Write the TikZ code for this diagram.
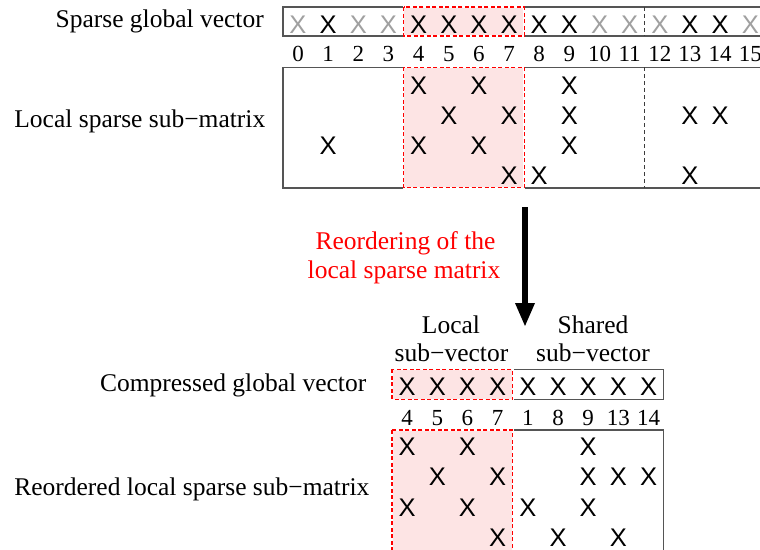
\documentclass[tikz,border=0pt]{standalone}
\usepackage{fontspec}
\setmainfont{Liberation Serif}
\newfontfamily\xsans{Liberation Sans}
\usetikzlibrary{arrows.meta}
\definecolor{pinkfill}{RGB}{253,228,228}
\definecolor{bordergray}{RGB}{85,85,85}
\definecolor{xgray}{RGB}{160,160,160}
\definecolor{dashgray}{RGB}{60,60,60}
\begin{document}
\begin{tikzpicture}[x=1pt,y=-1pt,
  txt/.style={font=\fontsize{25.5}{30}\selectfont, inner sep=0pt},
  lbl/.style={txt, anchor=base east},
  ctr/.style={txt, anchor=base},
  redtxt/.style={txt, anchor=base, text=red},
  idx/.style={font=\fontsize{23}{28}\selectfont, inner sep=0pt},
  xm/.style={font=\xsans\fontsize{25.5}{30}\selectfont, inner sep=0pt},
  xg/.style={xm, text=xgray},
  boxline/.style={draw=bordergray, line width=1.6pt},
  pinkbg/.style={fill=pinkfill, draw=white, line width=1.6pt},
  reddash/.style={draw=red, line width=1.2pt, dash pattern=on 4pt off 2.5pt},
  sepdash/.style={draw=dashgray, line width=1.1pt, dash pattern=on 4pt off 3pt}
]
\useasboundingbox (0,0) rectangle (760,549);
\fill[white] (0,0) rectangle (760,549);

% ---------- top vector and matrix ----------
\draw[boxline] (283,7) rectangle (766,36);
\draw[boxline] (283,67.3) rectangle (766,187.7);
\path[pinkbg] (403.6,7) rectangle (524.2,36);
\draw[reddash] (403.6,7) rectangle (524.2,36);
\path[pinkbg] (403.6,67.3) rectangle (524.2,187.7);
\draw[reddash] (403.6,67.3) rectangle (524.2,187.7);
\draw[sepdash] (644.8,7) -- (644.8,36);
\draw[sepdash] (644.8,67.3) -- (644.8,187.7);

% ---------- bottom vector and matrix ----------
\draw[boxline] (392,369.3) rectangle (663.5,399.3);
\draw[boxline] (392,430) rectangle (663.5,552);
\path[pinkbg] (392,369.3) rectangle (512.7,399.3);
\draw[reddash] (392,369.3) rectangle (512.7,399.3);
\path[pinkbg] (392,430) rectangle (512.7,552);
\draw[reddash] (392,430) rectangle (512.7,552);

% ---------- left labels ----------
\node[lbl] (l1) at (264,27.8) {Sparse global vector};
\node[lbl] (l2) at (265.5,127.8) {Local sparse sub−matrix};
\node[lbl] (l3) at (366.5,391) {Compressed global vector};
\node[lbl] (l4) at (369.5,495.5) {Reordered local sparse sub−matrix};

% ---------- top vector entries ----------
\foreach \c/\s in {0/xg,1/xm,2/xg,3/xg,4/xm,5/xm,6/xm,7/xm,8/xm,9/xm,10/xg,11/xg,12/xg,13/xm,14/xm,15/xg}
  \node[\s] (tv\c) at ({298+30.15*\c},24.5) {X};
\foreach \c in {0,...,15}
  \node[idx] (ti\c) at ({298+30.15*\c},54) {\c};

% ---------- top matrix entries ----------
\foreach \r/\c in {0/4,0/6,0/9,1/5,1/7,1/9,1/13,1/14,2/1,2/4,2/6,2/9,3/7,3/8,3/13}
  \node[xm] (tm\r-\c) at ({298+30.15*\c},{85.5+30*\r}) {X};

% ---------- arrow and its caption ----------
\coordinate (arrS) at (525,207);
\coordinate (arrE) at (525,327);
\draw[line width=6pt, -{Triangle[width=18pt,length=24pt]}] (arrS) -- (arrE);
\node[redtxt] (r1) at (405.5,249.5) {Reordering of the};
\node[redtxt] (r2) at (404,278.3) {local sparse matrix};

% ---------- sub-vector headers ----------
\node[ctr] (h1) at (451,333.3) {Local};
\node[ctr] (h2) at (451.5,361.7) {sub−vector};
\node[ctr] (h3) at (593,333.3) {Shared};
\node[ctr] (h4) at (593,361.7) {sub−vector};

% ---------- bottom vector entries ----------
\foreach \c in {0,...,8}
  \node[xm] (bv\c) at ({407.1+30.18*\c},387) {X};
\foreach \c/\t in {0/4,1/5,2/6,3/7,4/1,5/8,6/9,7/13,8/14}
  \node[idx] (bi\c) at ({407.1+30.18*\c},418) {\t};

% ---------- bottom matrix entries ----------
\foreach \r/\c in {0/0,0/2,0/6,1/1,1/3,1/6,1/7,1/8,2/0,2/2,2/4,2/6,3/3,3/5,3/7}
  \node[xm] (bm\r-\c) at ({407.1+30.18*\c},{447+30.2*\r}) {X};
\end{tikzpicture}
\end{document}
